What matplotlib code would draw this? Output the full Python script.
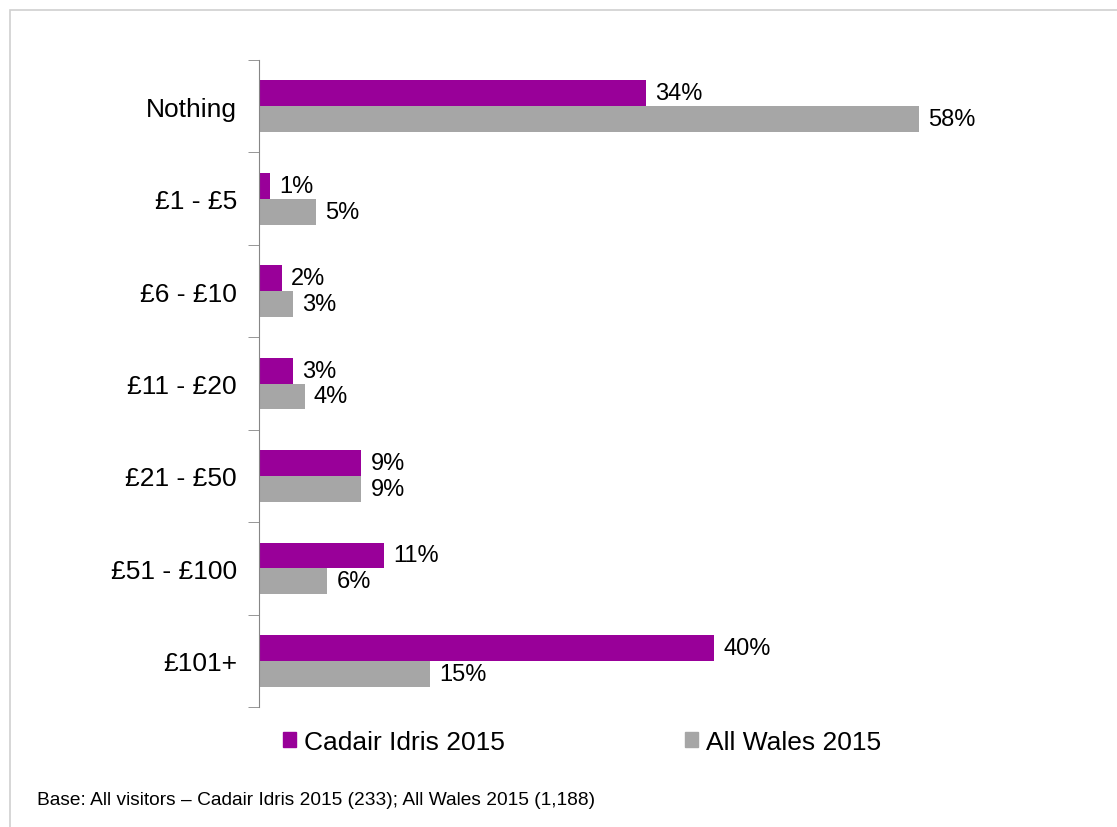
import matplotlib.pyplot as plt
import numpy as np
from matplotlib.patches import Patch, Rectangle

plt.rcParams['font.family'] = ['Liberation Sans', 'DejaVu Sans']

categories = ["Nothing", "£1 - £5", "£6 - £10", "£11 - £20", "£21 - £50", "£51 - £100", "£101+"]
cadair = [34, 1, 2, 3, 9, 11, 40]
wales = [58, 5, 3, 4, 9, 6, 15]
series_names = ["Cadair Idris 2015", "All Wales 2015"]
colors = ["#990099", "#A6A6A6"]

fig = plt.figure(figsize=(11.17, 8.28), dpi=100)
# light border round the whole chart area
fig.patches.append(Rectangle((10 / 1117, -0.01), 1.02, 1 - 11 / 828 + 0.01,
                             transform=fig.transFigure, fill=False,
                             edgecolor="#D0D0D0", linewidth=1.2))

ax = fig.add_axes([0.2319, 0.1449, 0.7133, 0.7814])
y = np.arange(len(categories))
h = 0.28
ax.barh(y - h / 2, cadair, height=h, color=colors[0])
ax.barh(y + h / 2, wales, height=h, color=colors[1])

for yi, v in zip(y, cadair):
    ax.text(v + 0.8, yi - h / 2, f"{v}%", va="center", ha="left", fontsize=17)
for yi, v in zip(y, wales):
    ax.text(v + 0.8, yi + h / 2, f"{v}%", va="center", ha="left", fontsize=17)

ax.set_xlim(0, 70)
ax.set_ylim(len(categories) - 0.5, -0.5)
ax.set_yticks(y)
ax.set_yticklabels(categories, fontsize=19)
ax.tick_params(axis="y", which="major", length=0, pad=16)
ax.set_yticks(np.arange(-0.5, len(categories)), minor=True)
ax.tick_params(axis="y", which="minor", length=8, color="#868686")
ax.set_xticks([])
for s in ["top", "right", "bottom"]:
    ax.spines[s].set_visible(False)
ax.spines["left"].set_color("#868686")

handles = [Patch(color=c) for c in colors]
fig.legend(handles, series_names, loc="center", bbox_to_anchor=(0.521, 1 - 743 / 828),
           ncol=2, frameon=False, fontsize=19, handlelength=0.5, handleheight=0.5,
           handletextpad=0.3, columnspacing=6.8)

fig.text(37 / 1117, 1 - 801 / 828, "Base: All visitors – Cadair Idris 2015 (233); All Wales 2015 (1,188)",
         fontsize=13.8, va="center", ha="left")

fig.savefig("out.png", dpi=100)
